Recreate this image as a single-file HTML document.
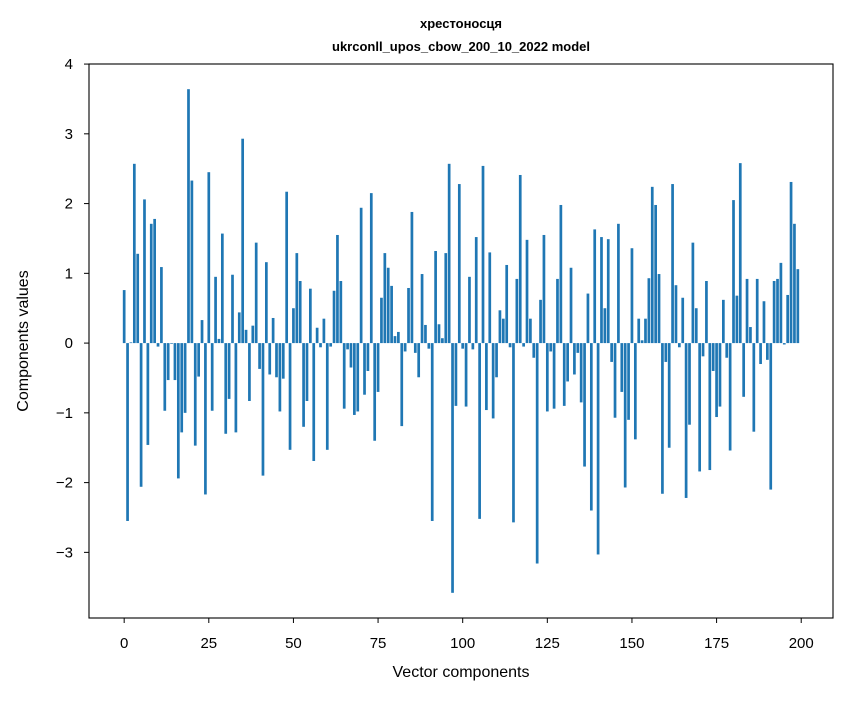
<!DOCTYPE html>
<html><head><meta charset="utf-8"><style>
body{margin:0;background:#fff}
svg text{font-family:"Liberation Sans","DejaVu Sans",sans-serif;fill:#000}
</style></head><body>
<svg id="chart" width="847" height="696" xmlns="http://www.w3.org/2000/svg">
<rect x="0" y="0" width="847" height="696" fill="#fff"/>
<text x="461" y="28" text-anchor="middle" font-size="13" font-weight="bold">хрестоносця</text>
<text x="461" y="51" text-anchor="middle" font-size="13" font-weight="bold">ukrconll_upos_cbow_200_10_2022 model</text>
<g id="bars"></g>
<g id="axes"></g>
<text x="461" y="677" text-anchor="middle" font-size="16">Vector components</text>
<text transform="translate(28,341) rotate(-90)" text-anchor="middle" font-size="16">Components values</text>
</svg>
<script>
const values = [0.76,-2.55,0.01,2.57,1.28,-2.06,2.06,-1.46,1.71,1.78,-0.05,1.09,-0.97,-0.53,-0.01,-0.53,-1.94,-1.28,-1.0,3.64,
2.33,-1.47,-0.48,0.33,-2.17,2.45,-0.97,0.95,0.06,1.57,-1.30,-0.80,0.98,-1.28,0.44,2.93,0.19,-0.83,0.25,1.44,
-0.37,-1.90,1.16,-0.45,0.36,-0.49,-0.98,-0.51,2.17,-1.53,0.50,1.29,0.89,-1.20,-0.83,0.78,-1.69,0.22,-0.06,0.35,
-1.53,-0.05,0.75,1.55,0.89,-0.94,-0.09,-0.35,-1.03,-0.98,1.94,-0.74,-0.40,2.15,-1.40,-0.70,0.65,1.29,1.08,0.82,
0.10,0.16,-1.19,-0.12,0.79,1.88,-0.14,-0.49,0.99,0.26,-0.08,-2.55,1.32,0.27,0.07,1.29,2.57,-3.58,-0.90,2.28,
-0.08,-0.91,0.95,-0.09,1.52,-2.52,2.54,-0.96,1.30,-1.08,-0.49,0.47,0.35,1.12,-0.06,-2.57,0.92,2.41,-0.05,1.48,
0.35,-0.21,-3.16,0.62,1.55,-0.98,-0.12,-0.94,0.92,1.98,-0.90,-0.55,1.08,-0.45,-0.14,-0.85,-1.77,0.71,-2.40,1.63,
-3.03,1.52,0.50,1.49,-0.27,-1.07,1.71,-0.70,-2.07,-1.10,1.36,-1.38,0.35,0.04,0.35,0.93,2.24,1.98,0.99,-2.16,
-0.27,-1.50,2.28,0.83,-0.06,0.65,-2.22,-1.17,1.44,0.50,-1.84,-0.19,0.89,-1.82,-0.40,-1.06,-0.91,0.62,-0.21,-1.54,
2.05,0.68,2.58,-0.77,0.92,0.23,-1.27,0.92,-0.30,0.60,-0.24,-2.10,0.89,0.92,1.15,-0.02,0.69,2.31,1.71,1.06];
const xTicks = [0,25,50,75,100,125,150,175,200];
const yTicks = [-3,-2,-1,0,1,2,3,4];
const xTickLabels = ["0","25","50","75","100","125","150","175","200"];
const yTickLabels = ["\u22123","\u22122","\u22121","0","1","2","3","4"];

const L=89,R=833,T=64,B=618;
const NS="http://www.w3.org/2000/svg";
const n=values.length;
const vmax=Math.max(...values,0), vmin=Math.min(...values,0);
const ym=(vmax-vmin)*0.05;
const y0=vmin-ym, y1=vmax+ym;
const x0=-0.4-(n-0.2)*0.05, x1=(n-1)+0.4+(n-0.2)*0.05;
const sx=v=>L+(v-x0)/(x1-x0)*(R-L);
const sy=v=>B-(v-y0)/(y1-y0)*(B-T);
function mk(tag,attrs,parent){const e=document.createElementNS(NS,tag);for(const k in attrs)e.setAttribute(k,attrs[k]);parent.appendChild(e);return e;}
const gb=document.getElementById('bars');
values.forEach((v,i)=>{
  const xa=sx(i-0.4), xb=sx(i+0.4);
  const ya=sy(Math.max(v,0)), yb=sy(Math.min(v,0));
  const r=mk('rect',{x:xa,y:ya,width:xb-xa,height:Math.max(yb-ya,0.3),fill:'#1f77b4'},gb);
  
  
});
const ga=document.getElementById('axes');
const frame=mk('rect',{x:L,y:T,width:R-L,height:B-T,fill:'none',stroke:'#000','stroke-width':1.1},ga);


xTicks.forEach((t,i)=>{
  const x=sx(t);
  const tk=mk('line',{x1:x,x2:x,y1:B,y2:B+5,stroke:'#000','stroke-width':1},ga);
  
  
  const tx=mk('text',{x:x,y:B+30,'text-anchor':'middle','font-size':15},ga);
  tx.textContent=xTickLabels[i];
  
  
});
yTicks.forEach((t,i)=>{
  const y=sy(t);
  const tk=mk('line',{x1:L-5,x2:L,y1:y,y2:y,stroke:'#000','stroke-width':1},ga);
  
  
  const tx=mk('text',{x:L-16,y:y+5,'text-anchor':'end','font-size':15},ga);
  tx.textContent=yTickLabels[i];
  
  
});
</script>
</body></html>
